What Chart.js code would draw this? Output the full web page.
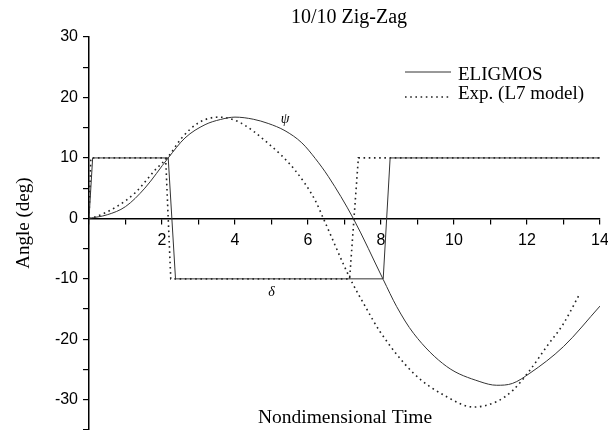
<!DOCTYPE html>
<html>
<head>
<meta charset="utf-8">
<title>10/10 Zig-Zag</title>
<script src="https://cdn.jsdelivr.net/npm/chart.js@4.4.1/dist/chart.umd.min.js"></script>
<style>
    html, body { margin: 0; padding: 0; background: #fff; }
    #wrap { width: 608px; height: 430px; }
</style>
</head>
<body>
<div id="wrap"><canvas id="myChart" width="608" height="430"></canvas></div>
<script>
/** ELIGMOS 航向角 psi */
var elgPsiTime = [0, 0.5, 1.0, 1.53, 2.17, 2.63, 3.18, 3.6, 4.0, 4.5, 4.91, 5.37, 5.83, 6.2, 6.56, 7.24, 8.06, 8.43, 8.89, 9.8, 10.71, 11.17, 11.6, 12.08, 13.0, 14.0]
var elgPsi = [0, 0.6, 1.95, 5.0, 10, 13.3, 15.5, 16.35, 16.75, 16.4, 15.7, 14.5, 12.5, 9.9, 6.9, 0, -10.1, -14.6, -19.0, -24.5, -27.0, -27.6, -27.3, -25.6, -21.2, -14.5]
/** ELIGMOS 舵角 delta */
var elgDeltaTime = [0, 0.1, 2.17, 2.37, 8.06, 8.25, 14]
var elgDelta = [0, 10, 10, -10, -10, 10, 10]
/** 试验 (L7 model) psi */
var expPsiTime = [0, 0.2, 0.76, 1.26, 1.81, 2.17, 2.54, 3.0, 3.54, 4.09, 4.91, 5.64, 6.19, 6.42, 7.15, 7.6, 7.97, 8.89, 9.8, 10.53, 11.17, 11.62, 12.08, 12.54, 13.0, 13.45]
var expPsi = [0, 0.3, 1.95, 4.2, 8.0, 10.2, 13.3, 15.8, 16.75, 16.0, 12.4, 8.0, 3.06, 0, -9.9, -14.9, -18.7, -25.6, -29.5, -31.2, -30.3, -28.4, -25.1, -21.2, -17.4, -12.4]
/** 试验 delta */
var expDeltaTime = [0, 0.05, 2.1, 2.24, 7.14, 7.38, 14]
var expDelta = [0, 10, 10, -10, -10, 10, 10]

/** 坐标轴 */
var xTicksShown = [2, 4, 6, 8, 10, 12, 14]
var yTicksShown = [-30, -20, -10, 0, 10, 20, 30]
var legendNames = ['ELIGMOS', 'Exp. (L7 model)']
var curveNames = ['\u03c8', '\u03b4']
var curveNameX = [5.37, 5.0]
var curveNameY = [16.4, -12.2]

function toPoints(xs, ys) {
    var pts = []
    xs.forEach(function (x, i) {
        pts.push({ x: x, y: ys[i] })
    })
    return pts
}

var solidStyle = { borderColor: '#333', borderWidth: 1, borderDash: [] }
var dotStyle = { borderColor: '#222', borderWidth: 1.6, borderDash: [1.6, 3.6] }

function makeSet(label, pts, style, smooth) {
    return {
        label: label,
        data: pts,
        showLine: true,
        fill: false,
        pointRadius: 0,
        pointHoverRadius: 0,
        borderColor: style.borderColor,
        borderWidth: style.borderWidth,
        borderDash: style.borderDash,
        tension: 0,
        cubicInterpolationMode: smooth ? 'monotone' : 'default'
    }
}

function noPadding(scale) {
    scale.paddingLeft = 0
    scale.paddingRight = 0
    scale.paddingTop = 0
    scale.paddingBottom = 0
}

/** 标题、图例、文字标注 */
var decorPlugin = {
    id: 'decor',
    afterDraw: function (chart) {
        var ctx = chart.ctx
        var xs = chart.scales.x
        var ys = chart.scales.y
        ctx.save()
        ctx.fillStyle = '#000'
        ctx.textBaseline = 'alphabetic'
        ctx.textAlign = 'center'
        ctx.font = '20px "Liberation Serif"'
        ctx.fillText('10/10 Zig-Zag', 349, 23)
        ctx.font = '19.5px "Liberation Serif"'
        ctx.fillText('Nondimensional Time', 345, 423)
        ctx.font = '19px "Liberation Serif"'
        ctx.save()
        ctx.translate(29, 223)
        ctx.rotate(-Math.PI / 2)
        ctx.fillText('Angle (deg)', 0, 0)
        ctx.restore()

        // 图例
        ctx.textAlign = 'left'
        var styles = [solidStyle, dotStyle]
        var rows = [72, 97]
        var bases = [80, 99]
        legendNames.forEach(function (name, i) {
            ctx.beginPath()
            ctx.strokeStyle = styles[i].borderColor
            ctx.lineWidth = styles[i].borderWidth
            ctx.setLineDash(styles[i].borderDash)
            ctx.moveTo(405, rows[i])
            ctx.lineTo(451, rows[i])
            ctx.stroke()
            ctx.fillText(name, 458, bases[i])
        })
        ctx.setLineDash([])

        // psi / delta
        ctx.textAlign = 'center'
        ctx.textBaseline = 'middle'
        ctx.font = 'italic 14px "Liberation Serif"'
        curveNames.forEach(function (name, i) {
            ctx.fillText(name, xs.getPixelForValue(curveNameX[i]), ys.getPixelForValue(curveNameY[i]))
        })
        ctx.restore()
    }
}

var ctx = document.getElementById('myChart').getContext('2d')
var myChart = new Chart(ctx, {
    type: 'scatter',
    data: {
        datasets: [
            makeSet('ELIGMOS', toPoints(elgPsiTime, elgPsi), solidStyle, true),
            makeSet('ELIGMOS delta', toPoints(elgDeltaTime, elgDelta), solidStyle, false),
            makeSet('Exp. (L7 model)', toPoints(expPsiTime, expPsi), dotStyle, true),
            makeSet('Exp. delta', toPoints(expDeltaTime, expDelta), dotStyle, false)
        ]
    },
    options: {
        responsive: false,
        animation: false,
        devicePixelRatio: 1,
        layout: { autoPadding: false, padding: { left: 0, right: 8, top: 37, bottom: 0 } },
        plugins: {
            legend: { display: false },
            tooltip: { enabled: false },
            title: { display: false }
        },
        scales: {
            x: {
                type: 'linear',
                position: { y: 0 },
                min: 0,
                max: 14,
                border: { display: true, color: '#000', width: 1.5 },
                grid: { drawOnChartArea: false, drawTicks: true, tickLength: 5, color: '#000', lineWidth: 1.2 },
                ticks: {
                    stepSize: 1,
                    autoSkip: false,
                    maxRotation: 0,
                    padding: 8,
                    color: '#000',
                    font: { family: '"Liberation Sans"', size: 16 },
                    callback: function (v) { return xTicksShown.indexOf(v) >= 0 ? String(v) : '' }
                },
                afterFit: noPadding
            },
            y: {
                min: -35,
                max: 30,
                border: { display: true, color: '#000', width: 1.5 },
                grid: { drawOnChartArea: false, drawTicks: true, tickLength: 6, color: '#000', lineWidth: 1.2 },
                ticks: {
                    stepSize: 5,
                    autoSkip: false,
                    padding: 5,
                    color: '#000',
                    font: { family: '"Liberation Sans"', size: 16 },
                    callback: function (v) { return yTicksShown.indexOf(v) >= 0 ? String(v) : '' }
                },
                afterFit: function (scale) {
                    noPadding(scale)
                    scale.width = 89
                }
            }
        }
    },
    plugins: [decorPlugin]
})
</script>
</body>
</html>
